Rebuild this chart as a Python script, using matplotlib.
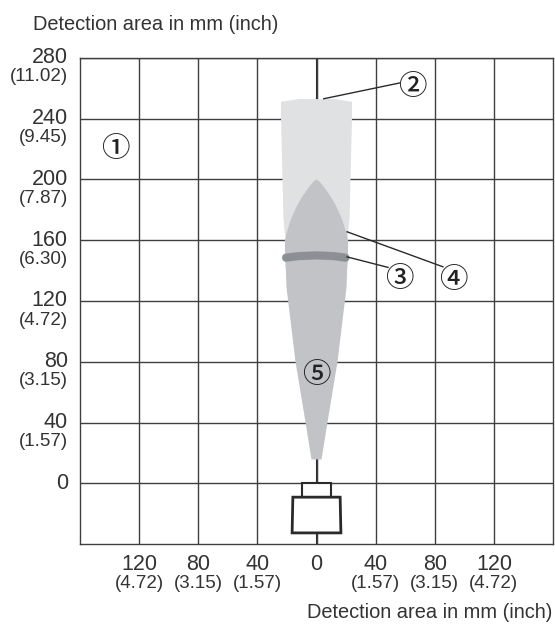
import numpy as np
import matplotlib
matplotlib.use('Agg')
import matplotlib.pyplot as plt
from matplotlib.patches import Polygon

plt.rcParams['font.family'] = ['Liberation Sans', 'DejaVu Sans']

# Ejes
x_ticks = [-120, -80, -40, 0, 40, 80, 120]
x_labels = ['120', '80', '40', '0', '40', '80', '120']
x_inch = ['(4.72)', '(3.15)', '(1.57)', '', '(1.57)', '(3.15)', '(4.72)']
y_ticks = [0, 40, 80, 120, 160, 200, 240, 280]
y_inch = ['', '(1.57)', '(3.15)', '(4.72)', '(6.30)', '(7.87)', '(9.45)', '(11.02)']

# Contornos (mitad derecha, mm)
light_y = [158, 165, 175, 200, 240, 251, 252.8, 252.8]
light_x = [20, 21.5, 22.4, 23, 24, 24, 12, 0]
dark_y = [15.8, 40, 80, 120, 129, 140, 147, 160, 164.5, 173, 182, 188.6, 195, 198.5, 200]
dark_x = [3.4, 7.4, 14.2, 19.2, 20.3, 20.7, 21.2, 21.4, 20.3, 17.6, 13.5, 9.7, 5, 2, 0]
band_x = [-20.5, -12, 0, 12, 19.5]
band_y = [148.5, 149.5, 150, 149.5, 148.5]

# Sensor
head_x = [-10, -10, 10, 10]
head_y = [-9, 0, 0, -9]
body_x = [-16, -16.5, 16.5, 16]
body_y = [-9, -32.5, -32.5, -9]

# Numeros: (texto, x, y)
markers = [('①', -135.8, 221.4), ('②', 65, 262), ('③', 56.3, 135.7), ('④', 92.8, 135.5), ('⑤', 0, 72.8)]
# Lineas de referencia
leaders = [([4.9, 56.3], [253, 263.4]), ([20.7, 48.4], [149, 142.1]), ([20.7, 85.5], [165.5, 142.5])]

W, H = 555, 625
fig = plt.figure(figsize=(W / 100, H / 100), dpi=100)
ax = fig.add_axes([80 / W, 1 - 544.3 / H, 473 / W, 486.6 / H])
ax.set_xlim(-160, 160)
ax.set_ylim(-40, 280)

line_c = '#3f3f41'
ax.set_xticks(x_ticks)
ax.set_yticks(y_ticks)
ax.set_xticklabels([])
ax.set_yticklabels([])
ax.tick_params(length=0)
ax.grid(True, color=line_c, lw=1.0, zorder=1)
for s in ax.spines.values():
    s.set_color(line_c)
    s.set_linewidth(1.0)

# Eje central
ax.plot([0, 0], [-40, 280], color='#2a2a2c', lw=1.5, zorder=1.5)

# Zonas
lx = np.array(light_x)
ax.add_patch(Polygon(np.c_[np.r_[lx, -lx[::-1]], light_y + light_y[::-1]],
                     fc='#e0e1e3', ec='none', zorder=2))
dx = np.array(dark_x)
ax.add_patch(Polygon(np.c_[np.r_[dx, -dx[::-1]], dark_y + dark_y[::-1]],
                     fc='#c2c3c7', ec='none', zorder=3))
ax.plot(band_x, band_y, color='#9db4bd', lw=6.2, solid_capstyle='round', zorder=3.5)
ax.plot(band_x, band_y, color='#8e8f93', lw=5.6, solid_capstyle='round', zorder=4)

# Sensor
ax.add_patch(Polygon(np.c_[head_x, head_y], closed=False, fc='white', ec='#2a2a2c', lw=1.5, zorder=5))
ax.add_patch(Polygon(np.c_[body_x, body_y], closed=True, fc='white', ec='#2a2a2c', lw=2, zorder=5))

for lxs, lys in leaders:
    ax.plot(lxs, lys, color='#2a2a2c', lw=1, zorder=6)
for txt, mx, my in markers:
    ax.annotate(txt, (mx, my), xytext=(0, -1.2), textcoords='offset points', fontsize=20.5,
                ha='center', va='center', color='#222224', fontweight='medium',
                family=['Noto Sans CJK JP', 'DejaVu Sans'], zorder=7)

# Etiquetas
txt_c = '#333335'
for t, lab, inch in zip(x_ticks, x_labels, x_inch):
    ax.annotate(lab, (t, -40), xytext=(0, -14.4), textcoords='offset points', ha='center',
                va='center', fontsize=15.5, color=txt_c)
    if inch:
        ax.annotate(inch, (t, -40), xytext=(0, -28), textcoords='offset points', ha='center',
                    va='center', fontsize=13.5, color=txt_c)
for t, inch in zip(y_ticks, y_inch):
    ax.annotate(str(t), (-160, t), xytext=(-8.8, 0), textcoords='offset points', ha='right',
                va='center', fontsize=15.5, color=txt_c)
    if inch:
        ax.annotate(inch, (-160, t), xytext=(-8.8, -13.7), textcoords='offset points', ha='right',
                    va='center', fontsize=13.5, color=txt_c)

fig.text(33 / W, 1 - 24.5 / H, 'Detection area in mm (inch)', fontsize=14.4, color=txt_c, va='center')
fig.text(552 / W, 1 - 613 / H, 'Detection area in mm (inch)', fontsize=14.4, color=txt_c,
         va='center', ha='right')

fig.savefig('out.png', dpi=100)
